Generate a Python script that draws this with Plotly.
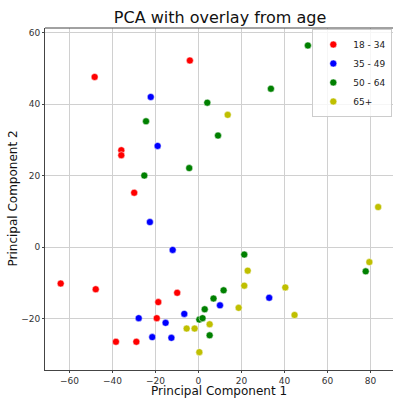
import plotly.graph_objects as go

groups = ["18 - 34", "35 - 49", "50 - 64", "65+"]
colors = ["#ff0000", "#0000ff", "#008000", "#bfbf00"]

x_18_34 = [-4.0, -48.3, -35.9, -35.9, -29.9, -64.1, -47.8, -9.9, -18.7, -19.4, -38.4, -28.9]
y_18_34 = [52.2, 47.6, 27.1, 25.7, 15.2, -10.2, -11.8, -12.8, -15.4, -19.9, -26.5, -26.5]

x_35_49 = [-22.2, -19.0, -22.6, -12.0, 10.0, -6.6, -27.8, -15.3, -21.5, -12.6, 32.9]
y_35_49 = [42.0, 28.3, 7.0, -0.8, -16.3, -18.7, -19.9, -21.2, -25.2, -25.4, -14.2]

x_50_64 = [50.9, 33.7, 4.1, -24.4, 9.1, -4.3, -25.2, 21.3, 77.8, 11.7, 7.0, 2.9, 0.4, 1.9, 5.2]
y_50_64 = [56.4, 44.3, 40.4, 35.2, 31.2, 22.1, 20.0, -2.1, -6.8, -12.1, -14.4, -17.4, -20.3, -19.9, -24.7]

x_65 = [13.6, 83.6, 22.9, 79.5, 21.3, 40.4, 18.7, 44.7, -5.5, -1.8, 5.2, 0.4]
y_65 = [37.0, 11.2, -6.6, -4.2, -10.8, -11.3, -17.0, -19.0, -22.8, -22.8, -21.6, -29.4]

xs = [x_18_34, x_35_49, x_50_64, x_65]
ys = [y_18_34, y_35_49, y_50_64, y_65]

x_ticks = [-60, -40, -20, 0, 20, 40, 60, 80]
y_ticks = [-20, 0, 20, 40, 60]


def fmt(v):
    return str(v) if v >= 0 else "\u2212" + str(-v)


fig = go.Figure()
for name, c, x, y in zip(groups, colors, xs, ys):
    fig.add_trace(go.Scatter(
        x=x, y=y, mode="markers", name=name,
        marker=dict(color=c, size=7, line=dict(color="white", width=0.5)),
    ))

font_family = "DejaVu Sans"
axis_common = dict(
    showgrid=True, gridcolor="#d0d0d0", gridwidth=1,
    zeroline=False, showline=True, linecolor="#444444", linewidth=1,
    ticks="outside", ticklen=2, tickcolor="#444444", tickwidth=1,
    tickfont=dict(family=font_family, size=9, color="#333333"),
    automargin=False,
)

fig.update_layout(
    width=393, height=398,
    margin=dict(l=45, r=0, t=28, b=28),
    paper_bgcolor="white", plot_bgcolor="white",
    font=dict(family=font_family, color="#111111"),
    title=dict(text="PCA with overlay from age", x=0.56, xanchor="center",
               y=0.957, yanchor="middle",
               font=dict(family=font_family, size=16, color="#111111")),
    xaxis=dict(range=[-71.4, 90.5], tickvals=x_ticks,
               ticktext=[fmt(v) for v in x_ticks], **axis_common),
    yaxis=dict(range=[-34.4, 61.3], tickvals=y_ticks,
               ticktext=[fmt(v) for v in y_ticks], **axis_common),
    legend=dict(x=0.998, y=0.997, xanchor="right", yanchor="top",
                bgcolor="rgba(255,255,255,0.8)", bordercolor="#cccccc", borderwidth=1,
                font=dict(family=font_family, size=9, color="#222222"),
                itemsizing="trace", tracegroupgap=0, itemwidth=30),
    showlegend=True,
)

fig.add_annotation(text="Principal Component 1", xref="paper", yref="paper",
                   x=0.5, y=0, yshift=-21, xanchor="center", yanchor="middle",
                   showarrow=False, font=dict(family=font_family, size=12, color="#111111"))
fig.add_annotation(text="Principal Component 2", xref="paper", yref="paper",
                   x=0, y=0.5, xshift=-32.5, xanchor="center", yanchor="middle",
                   textangle=-90, showarrow=False,
                   font=dict(family=font_family, size=12, color="#111111"))

fig.add_shape(type="line", xref="paper", yref="paper", x0=0, x1=1, y0=1, y1=1,
              line=dict(color="#444444", width=1))

fig.write_html("out.html")
